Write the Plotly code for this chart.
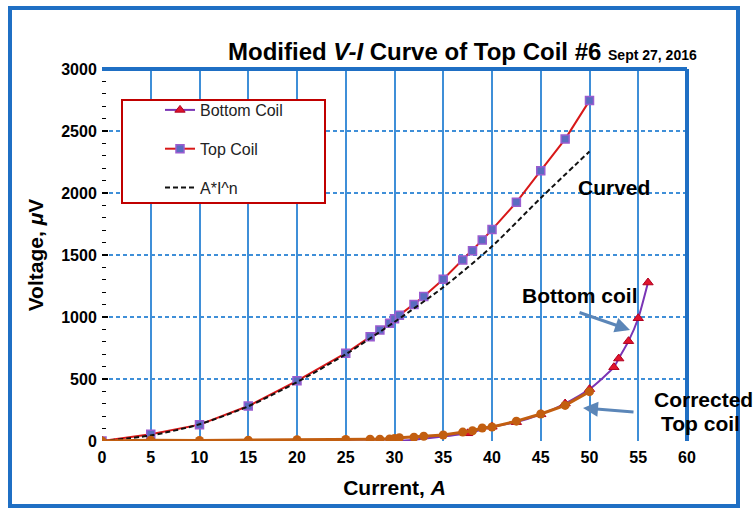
import plotly.graph_objects as go

# ---------------- data ----------------
top_x = [0, 5, 10, 15, 20, 25, 27.5, 28.5, 29.5, 30, 30.5, 32, 33, 35, 37, 38, 39, 40, 42.5, 45, 47.5, 50]
top_y = [0, 55, 132, 282, 485, 708, 840, 895, 950, 985, 1015, 1100, 1165, 1305, 1460, 1535, 1620, 1705, 1925, 2180, 2435, 2745]

fit_x = [0, 5, 10, 15, 20, 25, 30, 35, 40, 45, 50]
fit_y = [0, 45, 135, 280, 475, 700, 960, 1240, 1570, 1960, 2335]

bot_x = [0, 5, 10, 15, 20, 25, 30, 37.5, 40, 42.5, 45, 47.5, 50, 52.5, 53, 54, 55, 56]
bot_y = [0, 0, -3, 0, -3, -3, -3, 62, 115, 152, 215, 302, 418, 595, 665, 805, 990, 1278]

cor_x = [0, 5, 10, 15, 20, 25, 27.5, 28.5, 29.5, 30, 30.5, 32, 33, 35, 37, 38, 39, 40, 42.5, 45, 47.5, 50]
cor_y = [0, 7, 5, 6, 10, 13, 14, 15, 17, 20, 26, 30, 38, 48, 72, 83, 105, 113, 160, 218, 287, 398]

x_ticks = [0, 5, 10, 15, 20, 25, 30, 35, 40, 45, 50, 55, 60]
y_ticks = [0, 500, 1000, 1500, 2000, 2500, 3000]

FONT = "Arial, Liberation Sans, sans-serif"
BLUE = "#1f6fc4"
GRID = "#3f8fd8"

fig = go.Figure()

fig.add_trace(go.Scatter(
    x=bot_x, y=bot_y, name="Bottom Coil", mode="lines+markers",
    line=dict(color="#7a35b5", width=2, shape="spline", smoothing=0.6),
    marker=dict(symbol="triangle-up", size=9, color="#e0142c", line=dict(color="#b00020", width=1)),
    legendgroup="a", zorder=2))
fig.add_trace(go.Scatter(
    x=top_x, y=top_y, name="Top Coil", mode="lines+markers",
    line=dict(color="#d81818", width=2),
    marker=dict(symbol="square", size=8, color="#5a6cc0", line=dict(color="#9a5cd0", width=1.5)),
    legendgroup="b", zorder=0))
fig.add_trace(go.Scatter(
    x=fit_x, y=fit_y, name="A*I^n", mode="lines",
    line=dict(color="#111111", width=2, dash="5px,3px", shape="spline", smoothing=0.8),
    legendgroup="c", zorder=1))
fig.add_trace(go.Scatter(
    x=cor_x, y=cor_y, name="Corrected Top coil", mode="lines+markers",
    line=dict(color="#c25e10", width=3),
    marker=dict(symbol="circle", size=9, color="#c25e10"),
    showlegend=False, zorder=3))

# plot area pixels: x 102..687, y 69..441
def px(xp):
    return (xp - 102) / 585.0

def py(yp):
    return (441 - yp) / 372.0

shapes = [
    # outer blue frame
    dict(type="rect", xref="paper", yref="paper", x0=px(10), x1=px(738), y0=py(506), y1=py(8),
         line=dict(color=BLUE, width=4), layer="above"),
    # top and right plot border
    dict(type="line", xref="paper", yref="paper", x0=0, x1=1, y0=1, y1=1,
         line=dict(color=BLUE, width=4), layer="above"),
    dict(type="line", xref="paper", yref="paper", x0=1, x1=1, y0=0, y1=1,
         line=dict(color=BLUE, width=4), layer="above"),
    # legend box
    dict(type="rect", xref="paper", yref="paper", x0=px(122), x1=px(325), y0=py(203), y1=py(100),
         line=dict(color="#c00000", width=2), fillcolor="white", layer="above"),
]

LBL = dict(family=FONT, size=21, color="black")
annotations = [
    dict(xref="paper", yref="paper", x=px(226), y=py(51), xanchor="left", yanchor="middle",
         showarrow=False,
         text="<b>Modified <i>V-I</i> Curve of Top Coil #6</b> <b><span style='font-size:14px'>Sept 27, 2016</span></b>",
         font=dict(family=FONT, size=24, color="black")),
    dict(xref="paper", yref="paper", x=px(614), y=py(187), xanchor="center", yanchor="middle",
         showarrow=False, text="<b>Curved</b>", font=LBL),
    dict(xref="paper", yref="paper", x=px(580), y=py(295), xanchor="center", yanchor="middle",
         showarrow=False, text="<b>Bottom coil</b>", font=LBL),
    dict(xref="paper", yref="paper", x=px(704), y=py(399), xanchor="center", yanchor="middle",
         showarrow=False, text="<b>Corrected</b>", font=LBL),
    dict(xref="paper", yref="paper", x=px(700), y=py(423), xanchor="center", yanchor="middle",
         showarrow=False, text="<b>Top coil</b>", font=LBL),
    dict(xref="paper", yref="paper", x=px(630), y=py(330), ax=-52, ay=-18, text="", showarrow=True,
         arrowhead=2, arrowsize=1, arrowwidth=3, arrowcolor="#5b86b8"),
    dict(xref="paper", yref="paper", x=px(583), y=py(408), ax=52, ay=4, text="", showarrow=True,
         arrowhead=2, arrowsize=1, arrowwidth=3, arrowcolor="#5b86b8"),
]

fig.update_layout(
    width=756, height=512,
    margin=dict(l=102, r=69, t=69, b=71),
    paper_bgcolor="white", plot_bgcolor="white",
    font=dict(family=FONT, color="black"),
    shapes=shapes, annotations=annotations,
    legend=dict(x=px(160), y=py(93), xanchor="left", yanchor="top",
                bgcolor="rgba(0,0,0,0)", borderwidth=0,
                font=dict(family=FONT, size=16, color="#222222"),
                traceorder="grouped", tracegroupgap=15),
    xaxis=dict(range=[0, 60], tickvals=x_ticks, ticktext=[str(v) for v in x_ticks],
               showgrid=True, gridcolor=GRID, gridwidth=1.5,
               showline=True, linecolor="#9fb9d6", linewidth=3,
               zeroline=False, ticks="",
               tickfont=dict(family=FONT, size=16, color="black", weight="bold"),
               title=dict(text="<b>Current, <i>A</i></b>", font=dict(family=FONT, size=21), standoff=16)),
    yaxis=dict(range=[0, 3000], tickvals=y_ticks, ticktext=[str(v) for v in y_ticks],
               showgrid=True, gridcolor=GRID, gridwidth=1.5, griddash="4px,3px",
               showline=True, linecolor="black", linewidth=2,
               zeroline=False, ticks="inside", ticklen=6, tickcolor="black", tickwidth=1.5,
               minor=dict(dtick=100, ticks="inside", ticklen=4, tickcolor="black", tickwidth=1, showgrid=False),
               tickfont=dict(family=FONT, size=16, color="black", weight="bold"),
               title=dict(text="<b>Voltage, <i>μ</i>V</b>", font=dict(family=FONT, size=21), standoff=12)),
)

fig.write_html("out.html", config={"displayModeBar": False},
               post_script="document.body.style.margin='0px';")
